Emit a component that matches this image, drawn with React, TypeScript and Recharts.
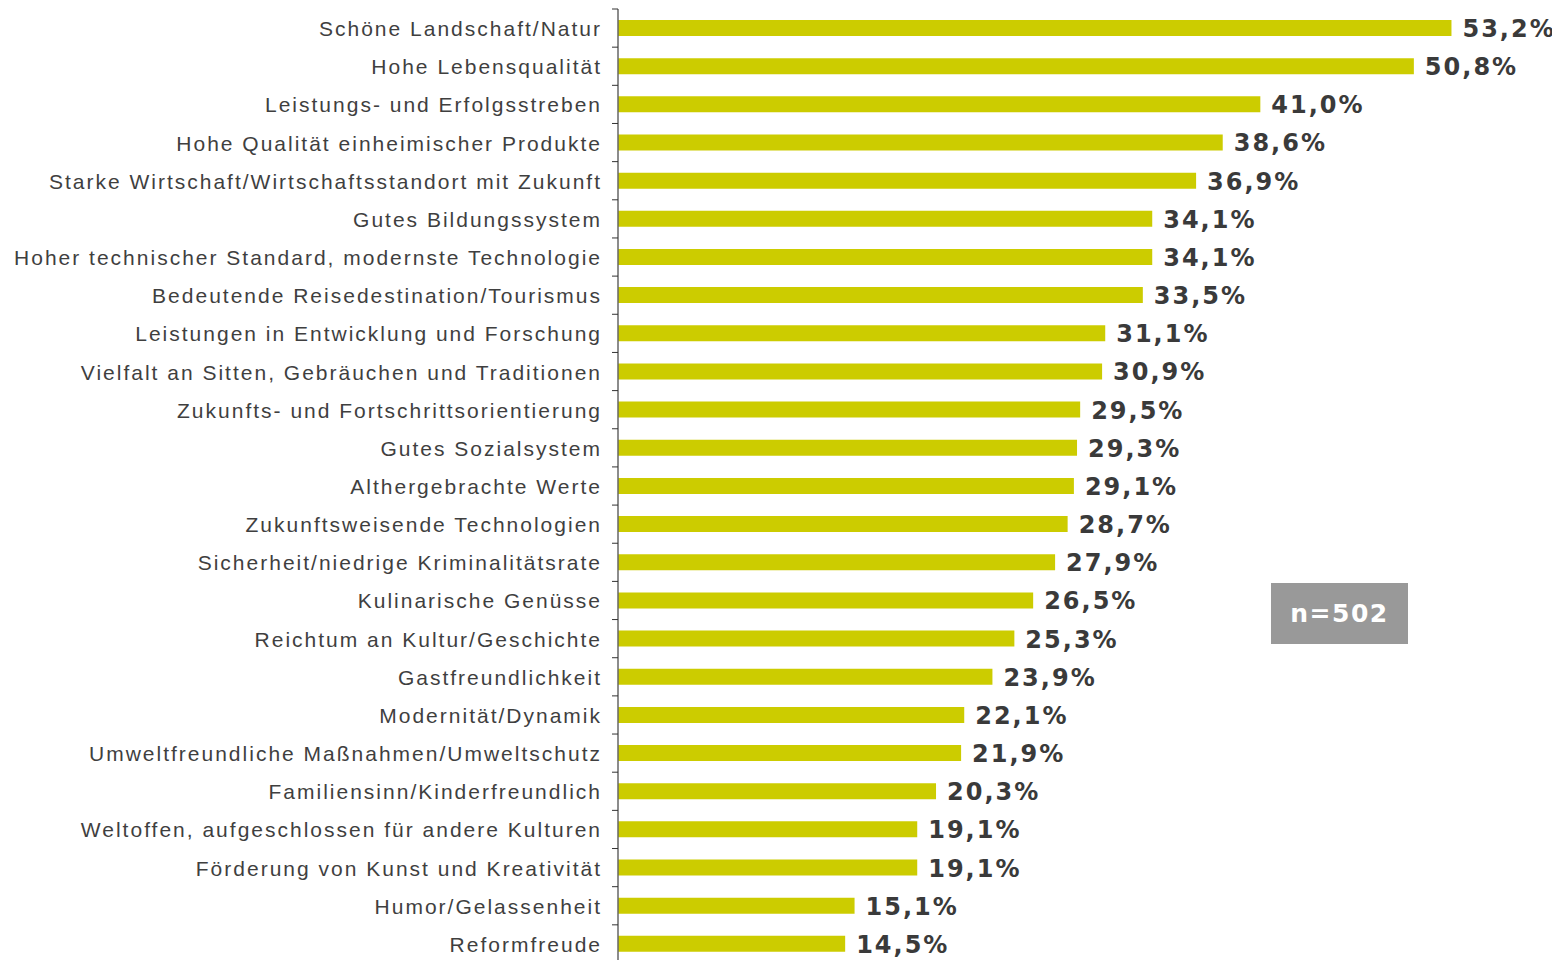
import React from "react"
import { BarChart, Bar, XAxis, YAxis, LabelList } from "recharts"

const categories = [
  "Schöne Landschaft/Natur",
  "Hohe Lebensqualität",
  "Leistungs- und Erfolgsstreben",
  "Hohe Qualität einheimischer Produkte",
  "Starke Wirtschaft/Wirtschaftsstandort mit Zukunft",
  "Gutes Bildungssystem",
  "Hoher technischer Standard, modernste Technologie",
  "Bedeutende Reisedestination/Tourismus",
  "Leistungen in Entwicklung und Forschung",
  "Vielfalt an Sitten, Gebräuchen und Traditionen",
  "Zukunfts- und Fortschrittsorientierung",
  "Gutes Sozialsystem",
  "Althergebrachte Werte",
  "Zukunftsweisende Technologien",
  "Sicherheit/niedrige Kriminalitätsrate",
  "Kulinarische Genüsse",
  "Reichtum an Kultur/Geschichte",
  "Gastfreundlichkeit",
  "Modernität/Dynamik",
  "Umweltfreundliche Maßnahmen/Umweltschutz",
  "Familiensinn/Kinderfreundlich",
  "Weltoffen, aufgeschlossen für andere Kulturen",
  "Förderung von Kunst und Kreativität",
  "Humor/Gelassenheit",
  "Reformfreude",
]

const shares = [
  53.2, 50.8, 41.0, 38.6, 36.9, 34.1, 34.1, 33.5, 31.1, 30.9, 29.5, 29.3, 29.1,
  28.7, 27.9, 26.5, 25.3, 23.9, 22.1, 21.9, 20.3, 19.1, 19.1, 15.1, 14.5,
]

const sampleLabel = "n=502"

const data = categories.map((name, i) => ({ name, value: shares[i] }))

const CHART_W = 1552
const CHART_H = 960
const MARGIN = { top: 1, right: 2, bottom: 5, left: 0 }
const BAND = (CHART_H - MARGIN.top - MARGIN.bottom) / categories.length
const FONT = '"Liberation Sans", Arial, sans-serif'
const BOLD_FONT = '"DejaVu Sans", Verdana, sans-serif'

const fmt = (v: number) => v.toFixed(1).replace(".", ",") + "%"

function CategoryTick(props: any) {
  const { x, y, payload, index } = props
  const axisX = x + 8
  const isLast = index === categories.length - 1
  return (
    <g>
      <line x1={axisX - 6} x2={axisX} y1={y - BAND / 2} y2={y - BAND / 2} stroke="#333" strokeWidth={1} />
      {isLast && (
        <line x1={axisX - 6} x2={axisX} y1={y + BAND / 2} y2={y + BAND / 2} stroke="#333" strokeWidth={1} />
      )}
      <text
        x={x - 8}
        y={y + 8}
        textAnchor="end"
        fill="#3f3f3f"
        fontSize={21}
        letterSpacing={2}
        fontFamily={FONT}
      >
        {payload.value}
      </text>
    </g>
  )
}

function ValueLabel(props: any) {
  const { x, y, width, height, value } = props
  return (
    <text
      x={x + width + 11}
      y={y + height / 2 + 9}
      fill="#3a3a3a"
      fontSize={24}
      fontWeight="bold"
      letterSpacing={2}
      fontFamily={BOLD_FONT}
    >
      {fmt(value)}
    </text>
  )
}

export default function App() {
  return (
    <div style={{ position: "relative", width: CHART_W, height: CHART_H }}>
      <BarChart width={CHART_W} height={CHART_H} data={data} layout="vertical" margin={MARGIN}>
        <XAxis type="number" domain={[0, 60]} hide />
        <YAxis
          type="category"
          dataKey="name"
          width={610}
          tickSize={6}
          tickMargin={2}
          tickLine={false}
          axisLine={{ stroke: "#666", strokeWidth: 1.5 }}
          tick={<CategoryTick />}
          interval={0}
        />
        <Bar dataKey="value" fill="#cccc00" barSize={16} isAnimationActive={false}>
          <LabelList dataKey="value" content={<ValueLabel />} />
        </Bar>
      </BarChart>
      <div
        style={{
          position: "absolute",
          left: 1263,
          top: 575,
          width: 137,
          height: 61,
          background: "#999999",
          color: "#fff",
          fontFamily: BOLD_FONT,
          fontWeight: "bold",
          fontSize: 25,
          letterSpacing: 1.5,
          display: "flex",
          alignItems: "center",
          justifyContent: "center",
        }}
      >
        {sampleLabel}
      </div>
    </div>
  )
}
